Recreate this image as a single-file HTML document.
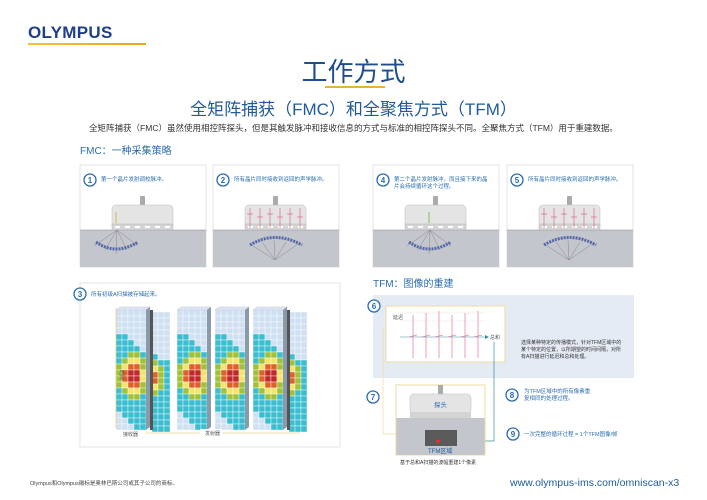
<!DOCTYPE html>
<html><head><meta charset="utf-8">
<style>
body{margin:0;width:707px;height:500px;background:#fff;position:relative;overflow:hidden;font-family:"Liberation Sans","Noto Sans CJK SC",sans-serif;}
.a{position:absolute;white-space:nowrap;}
svg{position:absolute;left:0;top:0;}
</style></head><body>
<div class="a" style="left:28px;top:23px;font-size:17px;font-weight:bold;color:#1f3f8a;letter-spacing:0.3px;">OLYMPUS</div>
<div class="a" style="left:28px;top:43px;width:118px;height:2px;background:linear-gradient(90deg,#f3c13a,#e8a51a);"></div>
<div class="a" style="left:0;width:707px;text-align:center;top:52px;font-size:26px;color:#1e4f8c;">工作方式</div>
<div class="a" style="left:325px;top:86px;width:60px;height:2px;background:#e6b23c;"></div>
<div class="a" style="left:0;width:707px;text-align:center;top:95px;font-size:17px;color:#1e5a9c;">全矩阵捕获（FMC）和全聚焦方式（TFM）</div>
<div class="a" style="left:0;width:707px;text-align:center;top:122px;font-size:8.5px;color:#333;">全矩阵捕获（FMC）虽然使用相控阵探头，但是其触发脉冲和接收信息的方式与标准的相控阵探头不同。全聚焦方式（TFM）用于重建数据。</div>
<div class="a" style="left:80px;top:142px;font-size:10px;color:#2a6cb0;">FMC：一种采集策略</div>
<div class="a" style="left:373px;top:275px;font-size:10px;color:#2a6cb0;">TFM：图像的重建</div>
<svg width="707" height="500" id="s" font-family="Liberation Sans, Noto Sans CJK SC, sans-serif"></svg>
<div class="a" style="left:30px;top:479px;font-size:5.5px;color:#444;">Olympus和Olympus徽标是奥林巴斯公司或其子公司的商标。</div>
<div class="a" style="left:510px;top:477px;font-size:10.5px;color:#1e5a9c;">www.olympus-ims.com/omniscan-x3</div>
<script>
var s='';
function circ(x,y,n){s+='<circle cx="'+x+'" cy="'+y+'" r="6" fill="#fff" stroke="#2a6cb0" stroke-width="1.3"/><text x="'+x+'" y="'+(y+3)+'" font-size="8" font-weight="bold" fill="#2a6cb0" text-anchor="middle">'+n+'</text>';}
function txt(x,y,t,sz,c){s+='<text x="'+x+'" y="'+y+'" font-size="'+(sz||5.5)+'" fill="'+(c||'#2a6cb0')+'">'+t+'</text>';}
function panel(x,n,t,t2,mode){
 var y=165,w=126,h=102;
 s+='<rect x="'+x+'" y="'+y+'" width="'+w+'" height="'+h+'" fill="#fff" stroke="#e3e3e3"/>';
 s+='<rect x="'+x+'" y="230" width="'+w+'" height="37" fill="#c3c6cc"/><line x1="'+x+'" y1="230" x2="'+(x+w)+'" y2="230" stroke="#888" stroke-width="0.6"/>';
 circ(x+10,y+15,n);txt(x+21,y+16,t);if(t2)txt(x+21,y+23,t2);
 var px=x+32;
 s+='<rect x="'+(px+28)+'" y="196" width="5" height="10" rx="1" fill="#aaa"/>';
 s+='<rect x="'+px+'" y="205" width="61" height="24" rx="4" fill="#e4e4e4" stroke="#bbb" stroke-width="0.5"/>';
 s+='<rect x="'+px+'" y="224" width="61" height="6" fill="#d4d4d4" stroke="#aaa" stroke-width="0.4"/>';
 for(var i=0;i<6;i++)s+='<rect x="'+(px+3+i*10)+'" y="226" width="5" height="2" fill="#fff"/>';
 if(mode==1||mode==4){var c=mode==1?'#e0a020':'#6bb040';var lx=px+(mode==1?4:24);s+='<line x1="'+lx+'" y1="212" x2="'+lx+'" y2="223" stroke="'+c+'" stroke-width="0.8"/>';
  for(var k=0;k<5;k++){s+='<line x1="'+(lx+1)+'" y1="230" x2="'+(lx-22+k*11)+'" y2="'+(248+Math.abs(k-2)*-4+6)+'" stroke="#777" stroke-width="0.4"/>';}
  s+='<path d="M'+(lx-20)+' 242 Q'+(lx)+' 256 '+(lx+22)+' 242" fill="none" stroke="#5566aa" stroke-width="3" stroke-dasharray="2 1"/>';}
 else{for(var i=0;i<6;i++){var vx=px+5+i*10;s+='<line x1="'+vx+'" y1="208" x2="'+vx+'" y2="228" stroke="#e0567a" stroke-width="0.6"/><line x1="'+(vx-3)+'" y1="'+(214+i%2*3)+'" x2="'+(vx+3)+'" y2="'+(214+i%2*3)+'" stroke="#e0567a" stroke-width="0.6"/>';}
  for(var k=0;k<5;k++){s+='<line x1="'+(px+30)+'" y1="260" x2="'+(px+5+k*12)+'" y2="'+(240-Math.abs(k-2)*-2)+'" stroke="#777" stroke-width="0.4"/>';}
  s+='<path d="M'+(px+5)+' 245 Q'+(px+30)+' 230 '+(px+57)+' 245" fill="none" stroke="#5566aa" stroke-width="3" stroke-dasharray="2 1"/>';}
}
panel(80,1,'第一个晶片发射调校脉冲。','',1);
panel(213,2,'所有晶片同时接收到返回的声学脉冲。','',2);
panel(373,4,'第二个晶片发射脉冲，而且接下来的晶','片会持续循环这个过程。',4);
panel(507,5,'所有晶片同时接收到返回的声学脉冲。','',2);
s+='<rect x="80" y="283" width="260" height="164" fill="#fff" stroke="#e3e3e3"/>';circ(80,294,3);txt(91,296,'所有初级A扫描被存储起来。');
function col(c,r){var dx=(c-2.3),dy=(r-10.5)/1.4;var d=Math.sqrt(dx*dx+dy*dy);
 if(d<0.9)return '#c0282a';if(d<1.5)return '#e0602a';if(d<2.0)return '#f3e46a';if(d<2.6)return '#9fc23a';
 var t=r-c*0.9; if(t>3&&t<17)return '#3bbdd0';return '#cfe0f2';}
function block(x,back){var cs=6;
 if(back){for(var r=0;r<20;r++)for(var c=0;c<3;c++){s+='<rect x="'+(x+36+c*cs)+'" y="'+(312+r*cs)+'" width="'+cs+'" height="'+cs+'" fill="'+col(c+3.5,r)+'" stroke="#fff" stroke-width="0.4"/>';}
  s+='<rect x="'+(x+34)+'" y="310" width="3" height="120" fill="#555"/>';}
 for(var r=0;r<20;r++)for(var c=0;c<5;c++){s+='<rect x="'+(x+c*cs)+'" y="'+(310+r*cs)+'" width="'+cs+'" height="'+cs+'" fill="'+col(c,r)+'" stroke="#fff" stroke-width="0.4"/>';}
 s+='<path d="M'+x+' 310 l4 -3 h30 l-4 3z" fill="#dde8f5" stroke="#aab" stroke-width="0.3"/><path d="M'+(x+30)+' 310 l4 -3 v120 l-4 3z" fill="#8a9aa8"/>';}
block(116,1);block(177,0);block(215,0);block(253,1);
s+='<line x1="116" y1="308" x2="116" y2="428" stroke="#e8c060" stroke-width="0.6"/><text x="120" y="370" font-size="5" fill="#555" transform="rotate(90 120 370)">时间</text>';
s+='<line x1="145" y1="433" x2="300" y2="433" stroke="#e8c060" stroke-width="0.6"/><rect x="200" y="429" width="22" height="8" fill="#fff"/>';txt(205,435,'发射器',5,'#555');txt(123,436,'接收器',5,'#555');
s+='<rect x="373" y="295" width="261" height="83" fill="#e5ebf4"/>';
s+='<rect x="386" y="306" width="119" height="56" fill="#fff" stroke="#f0d8a0"/>';circ(374,306,6);
txt(393,319,'延迟',5,'#555');s+='<line x1="400" y1="313" x2="485" y2="313" stroke="#bbb" stroke-width="0.4" stroke-dasharray="1 1"/><line x1="400" y1="321" x2="485" y2="321" stroke="#bbb" stroke-width="0.4" stroke-dasharray="1 1"/>';
s+='<line x1="400" y1="337" x2="485" y2="337" stroke="#3a8fa0" stroke-width="0.6"/><path d="M485 335 l4 2 l-4 2z" fill="#3a8fa0"/>';txt(490,339,'总和',5,'#555');
for(var i=0;i<6;i++){var vx=413+i*13;s+='<line x1="'+vx+'" y1="'+(315+(i%3)*-2)+'" x2="'+vx+'" y2="358" stroke="#e88aa0" stroke-width="0.8"/><line x1="'+(vx-4)+'" y1="337" x2="'+(vx+4)+'" y2="335" stroke="#e0567a" stroke-width="0.6"/>';}
txt(521,344,'选择某种特定的传播模式，针对TFM区域中的',5,'#333');txt(521,351,'某个特定的位置，以所期望的时间间隔，对所',5,'#333');txt(521,358,'有A扫描进行延迟和总和处理。',5,'#333');
s+='<polyline points="385,330 383,330 383,434 396,434" fill="none" stroke="#f0d8a0" stroke-width="0.7"/>';
s+='<polyline points="494,342 494,441 457,441" fill="none" stroke="#3a8fa0" stroke-width="0.7"/>';
s+='<rect x="396" y="385" width="89" height="70" fill="#fff" stroke="#f0d8a0"/><rect x="396.5" y="418" width="88" height="37" fill="#c3c6cc"/>';
s+='<rect x="438" y="385" width="5" height="9" fill="#aaa"/><rect x="410" y="394" width="61" height="20" rx="4" fill="#e4e4e4" stroke="#bbb" stroke-width="0.5"/><rect x="410" y="412" width="61" height="6" fill="#d4d4d4"/>';
txt(434,407,'探头',6.5);s+='<rect x="425" y="430" width="32" height="16" fill="#5a5a5a"/><rect x="436" y="440" width="4" height="3" fill="#e03030"/>';
txt(428,453,'TFM区域',6,'#1e5a9c');circ(373,397,7);txt(400,464,'基于总和A扫描的波幅重建1个像素',5,'#333');
circ(512,395,8);txt(524,393,'为TFM区域中的所有像素重',5.5);txt(524,400,'复相同的处理过程。',5.5);
circ(513,434,9);txt(524,436,'一次完整的循环过程 = 1个TFM图像/帧',5.5);
document.getElementById('s').innerHTML=s;
</script>
</body></html>
